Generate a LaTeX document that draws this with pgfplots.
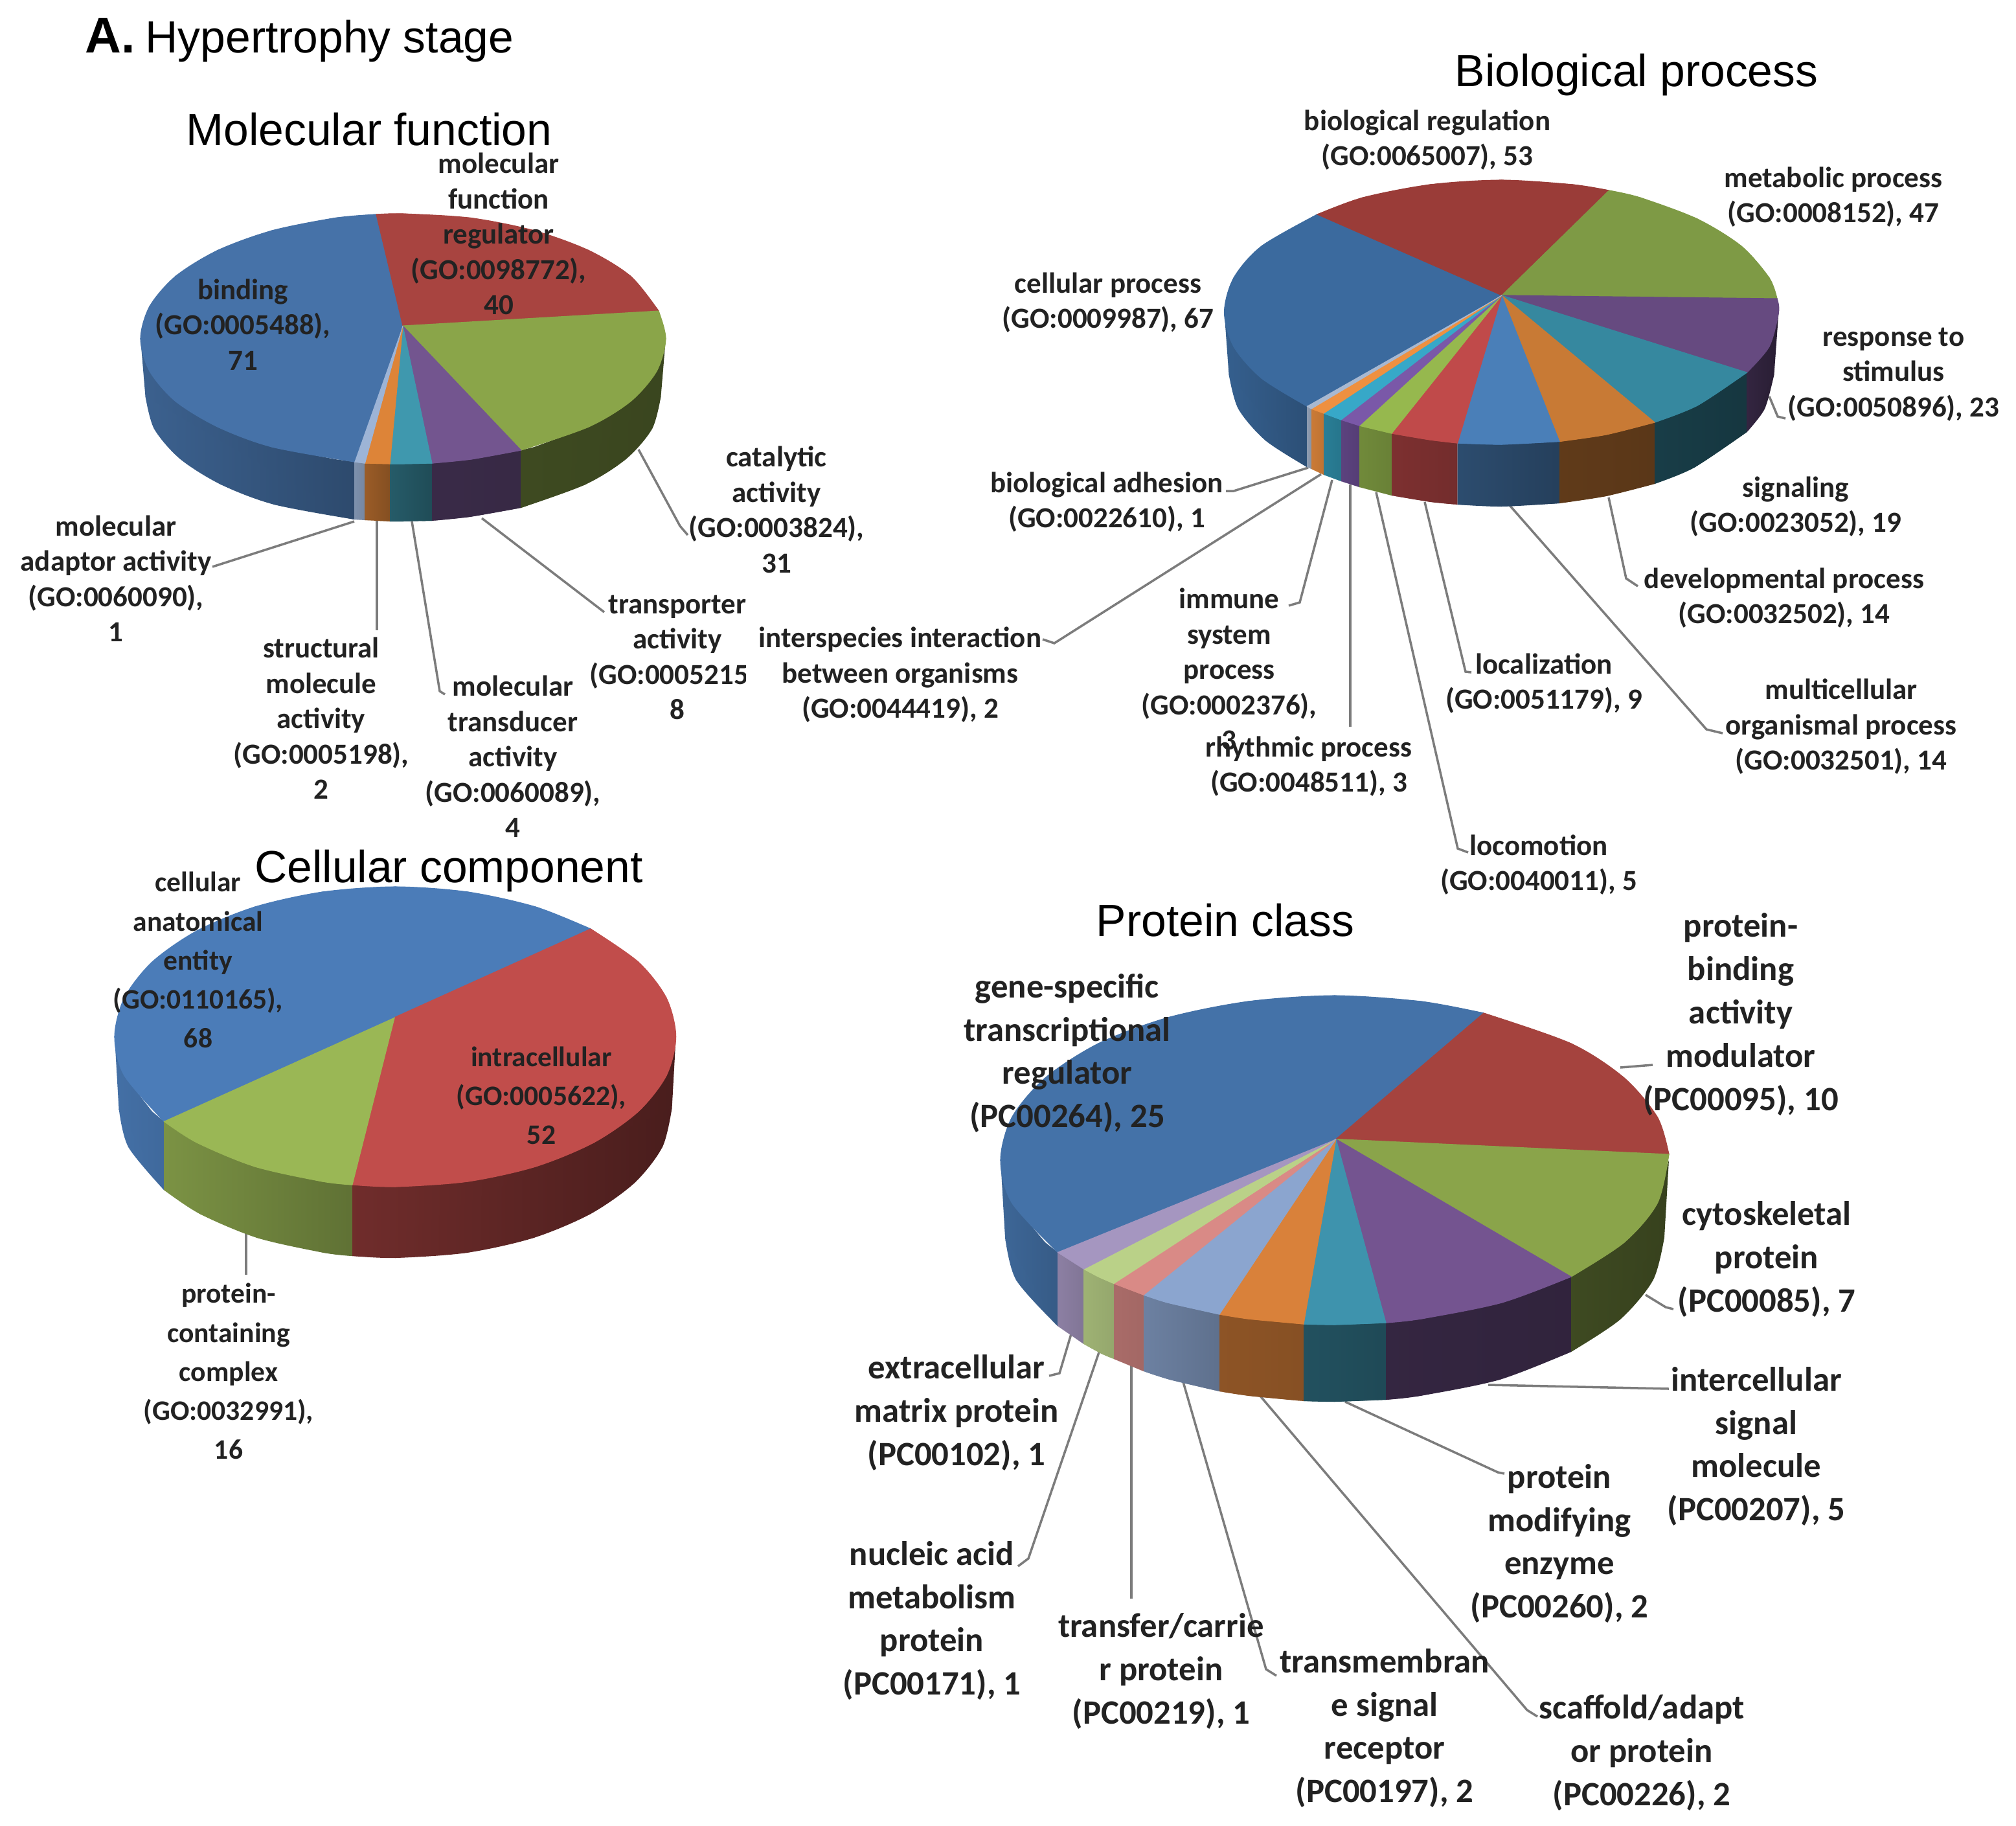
\documentclass[border=0pt]{standalone}
\usepackage{fontspec}
\setmainfont{Liberation Sans}
\newfontfamily\lab{Carlito}
\usepackage{pgfplots}
\pgfplotsset{compat=1.18}

% top faces
\definecolor{mfblue}{HTML}{4672A8}
\definecolor{mfred}{HTML}{A84440}
\definecolor{mfgreen}{HTML}{8AA549}
\definecolor{mfpurple}{HTML}{73558F}
\definecolor{mfteal}{HTML}{3F98AE}
\definecolor{mforange}{HTML}{DD8438}
\definecolor{mflight}{HTML}{9DB4D6}
\definecolor{bpblue}{HTML}{3B6A9E}
\definecolor{bpred}{HTML}{9A3C38}
\definecolor{bpgreen}{HTML}{7E9A45}
\definecolor{bppurple}{HTML}{664A80}
\definecolor{bpteal}{HTML}{36889F}
\definecolor{bporange}{HTML}{C87A35}
\definecolor{bpblueb}{HTML}{4A7FB8}
\definecolor{bpredb}{HTML}{C04A4A}
\definecolor{bpgreenb}{HTML}{96B84E}
\definecolor{bppurpleb}{HTML}{7A58A8}
\definecolor{bpcyan}{HTML}{37A8C8}
\definecolor{bporangeb}{HTML}{EE9040}
\definecolor{bpgrey}{HTML}{A8B8D0}
\definecolor{ccblue}{HTML}{4B7CB8}
\definecolor{ccred}{HTML}{C14D4B}
\definecolor{ccgreen}{HTML}{9AB755}
\definecolor{pcblue}{HTML}{4472A8}
\definecolor{pcred}{HTML}{A5433E}
\definecolor{pcgreen}{HTML}{8AA44A}
\definecolor{pcpurple}{HTML}{745490}
\definecolor{pcteal}{HTML}{3E93AD}
\definecolor{pcorange}{HTML}{D9813A}
\definecolor{pclight}{HTML}{8BA5CF}
\definecolor{pcpink}{HTML}{D98A86}
\definecolor{pclime}{HTML}{BAD188}
\definecolor{pclav}{HTML}{A596C0}
\definecolor{leader}{HTML}{7C7C7C}
\definecolor{labtext}{HTML}{222222}

% slice = wedge polygon plus a smooth cap along the rim
\newcommand{\face}[3]{%
  \addplot[fill=#1,draw=#1,line width=.3pt] coordinates {#2 #3};
  \addplot[fill=#1,draw=#1,line width=.3pt,smooth] coordinates {#3};}
% side wall: colours, upper rim, lower rim
\newcommand{\side}[4]{%
  \addplot[left color=#1,right color=#2,draw=none] coordinates {#3 #4};
  \addplot[left color=#1,right color=#2,draw=none,smooth] coordinates {#4};}
\newcommand{\leadline}[1]{\addplot[draw=leader,line width=1pt] coordinates {#1};}
\newcommand{\lbl}[3]{\node[labtext,align=center,inner sep=0pt,font=\lab\bfseries\fontsize{12.8pt}{15.5pt}\selectfont] at (axis cs:#1,#2) {#3};}
\newcommand{\lblc}[3]{\node[labtext,align=center,inner sep=0pt,font=\lab\bfseries\fontsize{12.4pt}{17.1pt}\selectfont] at (axis cs:#1,#2) {#3};}
\newcommand{\lblp}[3]{\node[labtext,align=center,inner sep=0pt,font=\lab\bfseries\fontsize{15pt}{19pt}\selectfont] at (axis cs:#1,#2) {#3};}
\newcommand{\ttl}[3]{\node[black,anchor=base,inner sep=0pt,font=\fontsize{19.8pt}{24pt}\selectfont] at (axis cs:#1,#2) {#3};}

\begin{document}
\begin{tikzpicture}
\begin{axis}[
    scale only axis,
    width=31.13cm, height=28.19cm,
    xmin=0, xmax=3113, ymin=0, ymax=2819,
    y dir=reverse,
    hide axis,
    clip=false,
]
\addplot[draw=none] coordinates {(0,0) (3113,2819)};

% leader lines, molecular function
\leadline{(986,694) (1050,812) (1062,826)}
\leadline{(744,800) (933,945)}
\leadline{(636,805) (679,1067) (687,1072)}
\leadline{(582,800) (582,973)}
\leadline{(547,805) (328,875)}
% biological process
\leadline{(2732,612) (2745,643) (2757,646)}
\leadline{(2484,768) (2511,893) (2529,905)}
\leadline{(2331,780) (2635,1126) (2660,1132)}
\leadline{(2200,775) (2263,1037) (2272,1038)}
\leadline{(2125,760) (2251,1310) (2267,1316)}
\leadline{(2085,748) (2085,1122)}
\leadline{(2057,741) (2007,930) (1990,935)}
\leadline{(2040,732) (1628,993) (1610,987)}
\leadline{(2020,722) (1905,758) (1893,758)}
% cellular component
\leadline{(380,1900) (380,1968)}
% protein class
\leadline{(2502,1648) (2552,1644)}
\leadline{(2541,1999) (2572,2018) (2584,2021)}
\leadline{(2298,2138) (2577,2144)}
\leadline{(2077,2164) (2313,2273) (2323,2275)}
\leadline{(1945,2154) (2358,2640) (2374,2650)}
\leadline{(1826,2130) (1955,2577) (1971,2587)}
\leadline{(1747,2106) (1747,2468)}
\leadline{(1701,2076) (1588,2406) (1572,2418)}
\leadline{(1658,2046) (1636,2120) (1620,2124)}

% molecular function: sides
\side{mfblue!85!black}{mfblue!65!black}{(217,523) (231,573) (271,619.5) (336,659) (420,690) (517.5,709) (547.5,713)}{(547.5,802) (423.5,779) (341,748) (278,708.5) (238,662) (224.5,612)}
\side{mflight!80!black}{mflight!75!black}{(547.5,713) (563.5,715)}{(563.5,803) (547.5,802)}
\side{mforange!70!black}{mforange!60!black}{(563.5,715) (602,716)}{(602,805) (563.5,803)}
\side{mfteal!60!black}{mfteal!50!black}{(602,716) (622.5,716) (667,715)}{(667,804) (622.5,805) (602,805)}
\side{mfpurple!50!black}{mfpurple!48!black}{(667,715) (727.5,709) (804.5,695)}{(804.5,784) (725.5,798) (667,804)}
\side{mfgreen!45!black}{mfgreen!42!black}{(804.5,695) (825,690) (909,659) (974,619.5) (1014,573) (1028,523)}{(1020.5,612) (1007,662) (967,708.5) (904,748) (804.5,784)}
% molecular function: top
\face{mfblue}{(622,503)}{(547.5,713) (420,690) (336,659) (271,619.5) (231,573) (217,523) (231,473) (271,426.5) (336,386.5) (420,356) (517.5,336.5) (581,331)}
\face{mfred}{(622,503)}{(581,331) (622.5,330) (727.5,336.5) (825,356) (909,386.5) (974,426.5) (1017,480)}
\face{mfgreen}{(622,503)}{(1017,480) (1028,523) (1014,573) (974,619.5) (909,659) (804.5,695)}
\face{mfpurple}{(622,503)}{(804.5,695) (727.5,709) (667,715)}
\face{mfteal}{(622,503)}{(667,715) (622.5,716) (602,716)}
\face{mforange}{(622,503)}{(602,716) (563.5,715)}
\face{mflight}{(622,503)}{(563.5,715) (547.5,713)}

% biological process: sides
\side{bpblue!90!black}{bpblue!75!black}{(1890.5,482) (1905,535) (1948,584) (2018,627)}{(2018,721) (1954,680) (1912,631) (1897.5,578)}
\side{bpgrey!85!black}{bpgrey!80!black}{(2018,627) (2025,631)}{(2025,724) (2018,721)}
\side{bporangeb!85!black}{bporangeb!80!black}{(2025,631) (2044,638)}{(2044,733) (2025,724)}
\side{bpcyan!75!black}{bpcyan!70!black}{(2044,638) (2071,648)}{(2071,743) (2044,733)}
\side{bppurpleb!75!black}{bppurpleb!70!black}{(2071,648) (2099,657)}{(2099,752) (2071,743)}
\side{bpgreenb!75!black}{bpgreenb!70!black}{(2099,657) (2149,669)}{(2149,765) (2099,752)}
\side{bpredb!65!black}{bpredb!60!black}{(2149,669) (2208,679) (2250.6,684)}{(2250.6,779) (2209.5,775) (2149,765)}
\side{bpblueb!60!black}{bpblueb!50!black}{(2250.6,684) (2318.5,686) (2408,681.5)}{(2408,777) (2318.5,782) (2250.6,779)}
\side{bporange!48!black}{bporange!45!black}{(2408,681.5) (2480,671) (2555,652)}{(2555,747) (2480,766) (2408,777)}
\side{bpteal!45!black}{bpteal!40!black}{(2555,652) (2621,626) (2697.5,575)}{(2697.5,667) (2616,722) (2555,747)}
\side{bppurple!50!black}{bppurple!40!black}{(2697.5,575) (2732,535) (2746.5,482)}{(2739.5,578) (2725,631) (2697.5,667)}
% biological process: top
\face{bpblue}{(2319,456)}{(2018,627) (1948,584) (1905,535) (1890.5,482) (1905,429) (1948,380) (2034,331)}
\face{bpred}{(2319,456)}{(2034,331) (2104.5,305) (2208,285) (2318.5,278) (2429,285) (2484.5,294)}
\face{bpgreen}{(2319,456)}{(2484.5,294) (2532.5,305) (2621,338) (2689,380) (2732,429) (2744,461)}
\face{bppurple}{(2319,456)}{(2744,461) (2746.5,482) (2732,535) (2697.5,575)}
\face{bpteal}{(2319,456)}{(2697.5,575) (2621,626) (2555,652)}
\face{bporange}{(2319,456)}{(2555,652) (2480,671) (2408,681.5)}
\face{bpblueb}{(2319,456)}{(2408,681.5) (2318.5,686) (2250.6,684)}
\face{bpredb}{(2319,456)}{(2250.6,684) (2208,679) (2149,669)}
\face{bpgreenb}{(2319,456)}{(2149,669) (2099,657)}
\face{bppurpleb}{(2319,456)}{(2099,657) (2071,648)}
\face{bpcyan}{(2319,456)}{(2071,648) (2044,638)}
\face{bporangeb}{(2319,456)}{(2044,638) (2025,631)}
\face{bpgrey}{(2319,456)}{(2025,631) (2018,627)}

% cellular component: sides
\side{ccblue!90!black}{ccblue!85!black}{(177,1600.5) (192,1660.5) (235,1716) (253,1731)}{(253,1837) (198,1770.5) (183.4,1710.5)}
\side{ccgreen!80!black}{ccgreen!62!black}{(253,1731) (304,1764) (393.7,1801) (498,1824) (544,1829)}{(544,1939) (500,1934) (397,1911) (308.5,1874) (253,1837)}
\side{ccred!58!black}{ccred!38!black}{(544,1829) (610.4,1832) (722.6,1824) (827,1801) (916.7,1764) (985.6,1716) (1029,1660.5) (1043.7,1600.5)}{(1037.6,1710.5) (1023,1770.5) (980,1826) (912,1874) (824,1911) (721,1934) (610.4,1942) (544,1939)}
% cellular component: top
\face{ccblue}{(609.3,1570.6)}{(253,1731) (192,1660.5) (177,1600.5) (192,1540.5) (235,1485) (304,1437) (393.7,1400) (498,1377) (610.4,1369) (722.6,1377) (827,1400) (912,1434)}
\face{ccred}{(609.3,1570.6)}{(912,1434) (985.6,1485) (1029,1540.5) (1043.7,1600.5) (1029,1660.5) (985.6,1716) (916.7,1764) (827,1801) (722.6,1824) (610.4,1832) (544,1829)}
\face{ccgreen}{(609.3,1570.6)}{(544,1829) (498,1824) (393.7,1801) (304,1764) (253,1731)}

% protein class: sides
\side{pcblue!90!black}{pcblue!80!black}{(1545,1791) (1562.5,1857) (1614,1918) (1633,1933)}{(1633,2047) (1569,1976) (1552,1910)}
\side{pclav!85!black}{pclav!78!black}{(1633,1933) (1673.6,1959)}{(1673.6,2075) (1633,2047)}
\side{pclime!85!black}{pclime!80!black}{(1673.6,1959) (1696,1971) (1720,1981.5)}{(1720,2098) (1701,2090) (1673.6,2075)}
\side{pcpink!78!black}{pcpink!75!black}{(1720,1981.5) (1766,1999)}{(1766,2117) (1720,2098)}
\side{pclight!78!black}{pclight!68!black}{(1766,1999) (1803,2011) (1883,2029)}{(1883,2148) (1806.5,2130) (1766,2117)}
\side{pcorange!65!black}{pcorange!62!black}{(1883,2029) (1927.4,2036) (2013,2044)}{(2013,2163) (1929,2155) (1883,2148)}
\side{pcteal!55!black}{pcteal!50!black}{(2013,2044) (2061,2045) (2140,2042)}{(2140,2161) (2061,2164) (2013,2163)}
\side{pcpurple!45!black}{pcpurple!42!black}{(2140,2042) (2194.6,2036) (2319,2011) (2426,1971)}{(2426,2087) (2315.5,2130) (2192.8,2155) (2140,2161)}
\side{pcgreen!45!black}{pcgreen!40!black}{(2426,1971) (2508,1918) (2559.5,1857) (2577,1791)}{(2570,1910) (2552.7,1976) (2501.8,2037) (2426,2087)}
% protein class: top
\face{pcblue}{(2063,1758.5)}{(1633,1933) (1562.5,1857) (1545,1791) (1562.5,1725) (1614,1664) (1696,1611) (1803,1571) (1927.4,1546) (2061,1537) (2194.6,1546) (2291,1564)}
\face{pcred}{(2063,1758.5)}{(2291,1564) (2426,1611) (2508,1664) (2559.5,1725) (2577,1782)}
\face{pcgreen}{(2063,1758.5)}{(2577,1782) (2559.5,1857) (2508,1918) (2426,1971)}
\face{pcpurple}{(2063,1758.5)}{(2426,1971) (2319,2011) (2194.6,2036) (2140,2042)}
\face{pcteal}{(2063,1758.5)}{(2140,2042) (2061,2045) (2013,2044)}
\face{pcorange}{(2063,1758.5)}{(2013,2044) (1927.4,2036) (1883,2029)}
\face{pclight}{(2063,1758.5)}{(1883,2029) (1803,2011) (1766,1999)}
\face{pcpink}{(2063,1758.5)}{(1766,1999) (1720,1981.5)}
\face{pclime}{(2063,1758.5)}{(1720,1981.5) (1696,1971) (1673.6,1959)}
\face{pclav}{(2063,1758.5)}{(1673.6,1959) (1633,1933)}

% header and titles
\node[black,anchor=base west,inner sep=0pt,font=\bfseries\fontsize{22pt}{26pt}\selectfont] at (axis cs:131,81) {A.};
\node[black,anchor=base west,inner sep=0pt,font=\fontsize{19.8pt}{24pt}\selectfont] at (axis cs:224,81) {Hypertrophy stage};
\ttl{570}{224}{Molecular function}
\ttl{2527}{133}{Biological process}
\ttl{693}{1362}{Cellular component}
\ttl{1892}{1445}{Protein class}

% molecular function labels
\lbl{770}{361}{molecular\\function\\regulator\\(GO:0098772),\\40}
\lbl{375}{501}{binding\\(GO:0005488),\\71}
\lbl{1199}{787}{catalytic\\activity\\(GO:0003824),\\31}
\lbl{179}{893}{molecular\\adaptor activity\\(GO:0060090),\\1}
\lbl{496}{1109}{structural\\molecule\\activity\\(GO:0005198),\\2}
\lbl{792}{1168}{molecular\\transducer\\activity\\(GO:0060089),\\4}
\lbl{1046}{1015}{transporter\\activity\\(GO:0005215),\\8}
\fill[white] (axis cs:1152,905) rectangle (axis cs:1195,1125);

% biological process labels
\lbl{2204}{216}{biological regulation\\(GO:0065007), 53}
\lbl{2831}{304}{metabolic process\\(GO:0008152), 47}
\lbl{1711}{467}{cellular process\\(GO:0009987), 67}
\lbl{2924}{578}{response to\\stimulus\\(GO:0050896), 23}
\lbl{2773}{782}{signaling\\(GO:0023052), 19}
\lbl{1709}{775}{biological adhesion\\(GO:0022610), 1}
\lbl{2755}{923}{developmental process\\(GO:0032502), 14}
\lbl{1390}{1042}{interspecies interaction\\between organisms\\(GO:0044419), 2}
\lbl{1898}{1033}{immune\\system\\process\\(GO:0002376),\\3}
\lbl{2384}{1055}{localization\\(GO:0051179), 9}
\lbl{2843}{1122}{multicellular\\organismal process\\(GO:0032501), 14}
\lbl{2021}{1183}{rhythmic process\\(GO:0048511), 3}
\lbl{2376}{1335}{locomotion\\(GO:0040011), 5}

% cellular component labels
\lblc{306}{1482}{cellular\\anatomical\\entity\\(GO:0110165),\\68}
\lblc{836}{1691}{intracellular\\(GO:0005622),\\52}
\lblc{353}{2117}{protein-\\containing\\complex\\(GO:0032991),\\16}

% protein class labels
\lblp{1648}{1626}{gene-specific\\transcriptional\\regulator\\(PC00264), 25}
\lblp{2688}{1566}{protein-\\binding\\activity\\modulator\\(PC00095), 10}
\lblp{2728}{1944}{cytoskeletal\\protein\\(PC00085), 7}
\lblp{2712}{2233}{intercellular\\signal\\molecule\\(PC00207), 5}
\lblp{2408}{2383}{protein\\modifying\\enzyme\\(PC00260), 2}
\lblp{1477}{2181}{extracellular\\matrix protein\\(PC00102), 1}
\lblp{1439}{2502}{nucleic acid\\metabolism\\protein\\(PC00171), 1}
\lblp{1793}{2580}{transfer/carrie\\r protein\\(PC00219), 1}
\lblp{2138}{2668}{transmembran\\e signal\\receptor\\(PC00197), 2}
\lblp{2535}{2706}{scaffold/adapt\\or protein\\(PC00226), 2}
\end{axis}
\pgfresetboundingbox
\path[use as bounding box] (current axis.south west) rectangle (current axis.north east);
\end{tikzpicture}
\end{document}
